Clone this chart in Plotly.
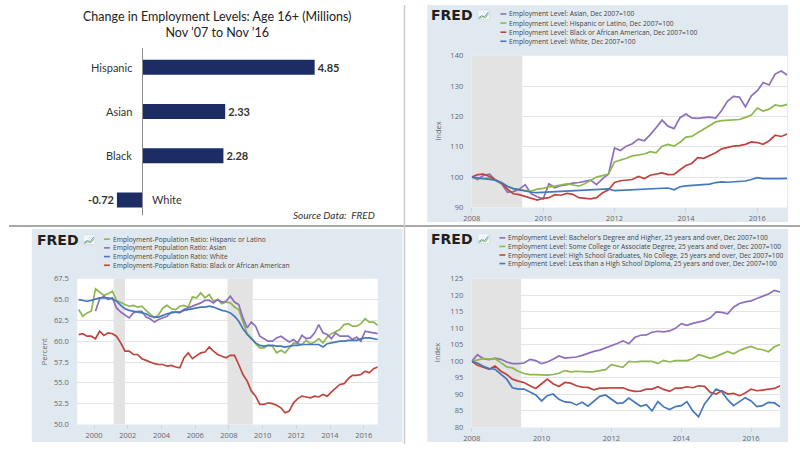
import plotly.graph_objects as go
import pandas as pd

W, H = 800, 449


def px(x):
    return x / W


def py(y):
    return 1 - y / H


# ---------------- DATA ----------------
# Panel 1: change in employment levels (millions)
bar_title = "Change in Employment Levels: Age 16+ (Millions)<br>Nov \u201907 to Nov \u201916"
bar_categories = ["Hispanic", "Asian", "Black", "White"]
bar_values = [4.85, 2.33, 2.28, -0.72]
bar_source = "Source Data:  FRED"

# Panel 2: employment level by race, Dec 2007 = 100 (every 2 months)
race_dates = pd.date_range("2008-01-01", "2016-11-01", freq="2MS")
race_names = [
    "Employment Level: Asian, Dec 2007=100",
    "Employment Level: Hispanic or Latino, Dec 2007=100",
    "Employment Level: Black or African American, Dec 2007=100",
    "Employment Level: White, Dec 2007=100",
]
race_asian = [100.0, 99.2, 100.6, 101.0, 99.0, 97.8,
              95.0, 95.2, 96.0, 97.5, 94.5, 93.5,
              92.8, 97.8, 96.5, 97.2, 97.5, 98.0,
              98.2, 98.6, 99.0, 97.5, 99.5, 101.0,
              109.6, 108.8, 110.2, 111.0, 112.5, 112.0,
              114.0, 116.3, 118.8, 116.8, 116.0, 119.6,
              120.8, 119.5, 119.4, 119.6, 119.8, 119.5,
              122.0, 125.0, 126.6, 126.4, 123.2, 126.8,
              128.5, 131.2, 130.4, 134.0, 135.0, 133.7]
race_hispanic = [100.0, 99.6, 99.5, 99.8, 98.8, 97.8,
                 96.8, 96.2, 95.8, 95.6, 95.4, 96.0,
                 96.3, 96.8, 97.0, 97.5, 97.8, 97.4,
                 97.0, 97.8, 98.8, 100.0, 100.5, 101.0,
                 105.0, 105.5, 106.2, 107.0, 107.4, 107.6,
                 108.4, 108.0, 110.2, 110.8, 110.2, 111.5,
                 113.2, 113.4, 114.6, 115.8, 116.8, 118.2,
                 118.6, 118.8, 118.9, 119.0, 119.7, 120.5,
                 122.8, 121.8, 122.4, 123.8, 123.4, 124.0]
race_black = [100.0, 100.8, 101.0, 100.2, 99.0, 98.0,
              96.0, 94.5, 94.2, 93.6, 92.8, 92.4,
              93.0, 93.2, 94.2, 94.0, 94.6, 94.3,
              93.2, 92.9, 92.8, 93.2, 94.8, 95.8,
              98.2, 98.8, 99.0, 99.2, 100.2, 99.5,
              100.6, 101.0, 101.4, 100.8, 100.9, 102.4,
              103.8, 104.5, 106.4, 106.2, 107.0, 108.0,
              109.3, 109.8, 110.2, 110.4, 110.8, 111.6,
              111.4, 110.8, 112.0, 113.8, 113.4, 114.2]
race_white = [100.0, 99.8, 99.6, 99.4, 99.0, 98.2,
              97.0, 96.2, 95.8, 95.4, 95.0, 94.9,
              95.0, 95.1, 95.2, 95.3, 95.4, 95.5,
              95.5, 95.6, 95.7, 95.8, 96.0, 96.1,
              95.5, 95.6, 95.6, 95.8, 95.9, 96.0,
              96.1, 96.2, 96.3, 96.4, 95.8, 96.8,
              97.1, 97.2, 97.3, 97.5, 97.7, 98.2,
              98.4, 98.3, 98.4, 98.5, 98.7, 99.2,
              99.8, 99.5, 99.4, 99.5, 99.5, 99.6]

# Panel 3: employment-population ratio (percent), quarterly samples
epr_dates = pd.date_range("1999-02-01", "2016-11-01", freq="3MS")
epr_names = [
    "Employment-Population Ratio: Hispanic or Latino",
    "Employment Population Ratio: Asian",
    "Employment-Population Ratio: White",
    "Employment-Population Ratio: Black or African American",
]
epr_hispanic = [63.8, 63.0, 63.4, 63.6,
                66.3, 65.9, 65.5, 65.7,
                66.0, 64.9, 64.6, 64.4,
                64.2, 64.3, 64.1, 64.2,
                63.7, 63.2, 62.8, 63.2,
                64.0, 64.3, 63.9, 63.8,
                64.2, 64.3, 64.1, 65.3,
                65.2, 65.8, 65.2, 65.6,
                64.8, 65.0, 64.5, 64.7,
                64.6, 64.1, 63.8, 62.3,
                60.9, 60.4, 59.7, 59.2,
                59.2, 59.5, 59.4, 58.6,
                58.9, 58.6, 59.2, 59.8,
                59.7, 59.6, 60.1, 59.7,
                59.9, 60.3, 59.8, 60.5,
                60.9, 61.1, 61.4, 62.0,
                62.1, 61.8, 61.8, 62.1,
                62.7, 62.3, 62.3, 61.9]
epr_asian = [None, None, None, None,
             63.6, 65.1, 65.4, 65.0,
             65.2, 64.0, 63.5, 63.2,
             62.8, 63.4, 63.6, 63.6,
             62.9, 62.7, 62.3, 62.6,
             62.8, 63.0, 63.5, 63.5,
             63.4, 63.8, 64.0, 64.2,
             64.4, 64.6, 64.9, 64.9,
             64.6, 65.0, 64.7, 64.8,
             65.4, 64.7, 64.4, 62.8,
             61.6, 62.3, 61.8, 60.6,
             60.3, 60.0, 60.0, 60.4,
             60.6, 60.3, 59.9, 60.2,
             59.8, 60.7, 60.3, 60.4,
             61.0, 62.0, 61.0, 60.8,
             60.3, 61.0, 60.6, 60.6,
             60.6, 60.2, 60.5, 60.0,
             61.2, 61.1, 61.0, 60.9]
epr_white = [65.0, 64.9, 64.8, 64.9,
             65.1, 65.2, 65.2, 65.2,
             65.1, 64.8, 64.3, 63.9,
             63.7, 63.6, 63.5, 63.4,
             63.3, 63.0, 62.9, 62.9,
             63.1, 63.3, 63.4, 63.5,
             63.5, 63.7, 63.8, 63.9,
             64.0, 64.1, 64.1, 64.2,
             64.1, 63.9, 63.7, 63.6,
             63.4, 63.0, 62.4, 61.5,
             60.8, 60.3, 59.8, 59.5,
             59.4, 59.5, 59.5, 59.4,
             59.4, 59.3, 59.4, 59.5,
             59.5, 59.6, 59.6, 59.6,
             59.6, 59.6, 59.3, 59.7,
             59.8, 59.9, 60.0, 60.0,
             60.1, 60.1, 60.1, 60.3,
             60.4, 60.4, 60.3, 60.2]
epr_black = [60.8, 60.9, 60.6, 60.6,
             60.3, 61.2, 60.7, 61.0,
             60.9, 60.6, 59.8, 58.8,
             58.8, 58.4, 58.4, 57.9,
             57.7, 57.5, 57.3, 57.2,
             57.2, 57.0, 57.1, 56.9,
             56.8, 58.0, 58.6, 57.9,
             58.3, 58.6, 58.7, 59.3,
             58.8, 58.4, 58.2, 58.0,
             58.3, 58.3, 57.2, 56.0,
             55.2, 54.0, 53.4, 52.4,
             52.4, 52.6, 52.5, 52.3,
             52.0, 51.4, 51.6, 52.6,
             53.1, 53.4, 53.3, 53.2,
             53.4, 53.3, 53.6, 53.4,
             53.9, 54.4, 54.8, 54.9,
             55.5, 55.9, 55.9, 56.0,
             56.4, 56.2, 56.7, 56.9]

# Panel 4: employment level by education, Dec 2007 = 100 (every 2 months)
edu_dates = pd.date_range("2008-01-01", "2016-11-01", freq="2MS")
edu_names = [
    "Employment Level: Bachelor's Degree and Higher, 25 years and over, Dec 2007=100",
    "Employment Level: Some College or Associate Degree, 25 years and over, Dec 2007=100",
    "Employment Level: High School Graduates, No College, 25 years and over, Dec 2007=100",
    "Employment Level: Less than a High School Diploma, 25 years and over, Dec 2007=100",
]
edu_bachelor = [100.0, 102.0, 100.8, 100.5, 101.0, 100.6,
                99.8, 99.3, 99.3, 99.5, 100.6, 100.2,
                99.3, 99.8, 100.6, 101.6, 101.0, 101.2,
                101.3, 101.8, 102.5, 103.0, 103.4, 104.0,
                104.8, 105.4, 106.2, 105.3, 107.2, 107.9,
                108.0, 108.8, 109.1, 108.9, 109.2, 110.0,
                111.4, 110.9, 111.5, 112.0, 112.3, 113.2,
                115.0, 114.8, 114.4, 116.4, 117.5, 118.0,
                118.3, 119.0, 119.6, 120.4, 121.5, 121.0]
edu_somecollege = [100.0, 100.3, 100.8, 100.7, 100.8, 99.6,
                   98.3, 98.0, 97.0, 96.3, 96.0, 96.0,
                   95.8, 95.8, 96.0, 96.4, 97.2, 96.8,
                   97.0, 96.8, 96.8, 96.9, 97.1, 97.5,
                   99.0, 98.6, 98.2, 100.0, 99.8, 100.0,
                   100.0, 100.0, 99.3, 100.3, 99.8, 100.2,
                   100.2, 100.2, 100.8, 102.0, 101.5, 100.9,
                   101.5, 102.2, 103.0, 102.3, 103.3, 104.0,
                   104.5, 103.8, 103.5, 102.9, 104.4, 105.1]
edu_highschool = [100.0, 98.8, 98.2, 97.6, 98.6, 97.0,
                  96.0, 94.6, 94.0, 93.6, 92.6, 91.8,
                  93.2, 94.6, 93.2, 92.4, 93.6, 93.4,
                  92.6, 92.2, 92.1, 91.4, 91.9, 91.9,
                  91.9, 92.0, 92.0, 91.3, 90.9, 91.0,
                  91.6, 91.6, 92.3, 91.5, 90.9, 91.9,
                  91.9, 92.3, 92.0, 92.6, 92.4, 90.6,
                  90.1, 91.1, 90.1, 90.3, 89.6, 90.4,
                  91.6, 91.1, 91.4, 91.5, 91.8, 92.6]
edu_lesshs = [100.0, 99.5, 98.5, 97.8, 97.6, 96.0,
              94.6, 92.0, 91.6, 91.6, 90.6, 89.8,
              88.0, 89.6, 90.1, 88.5, 87.7, 87.6,
              86.8, 87.6, 86.4, 88.0, 89.4, 89.8,
              88.4, 87.3, 87.4, 88.9, 87.6, 86.4,
              86.9, 85.0, 87.8, 86.2, 85.4, 86.3,
              86.6, 87.8, 85.0, 83.2, 87.1, 89.4,
              91.6, 90.8, 88.4, 86.6, 87.8, 89.0,
              88.0, 86.3, 86.6, 87.6, 87.4, 86.2]

recessions_2008 = [("2008-01-01", "2009-06-01")]
recessions_1999 = [("2001-03-01", "2001-11-01"), ("2007-12-01", "2009-06-01")]

# ---------------- STYLE ----------------
PURPLE = "#8d6fbb"
GREEN = "#8db74f"
RED = "#c1433e"
BLUE = "#4478bd"
FRED_BG = "#e1e9f0"
REC = "#e3e3e3"
GRID = "#e4e4e4"
TICKC = "#666666"
FONT = "Open Sans"

fig = go.Figure()
shapes = []
annotations = []

# ---------------- PANEL 1: bars ----------------
fig.add_trace(go.Bar(
    x=bar_values, y=bar_categories, orientation="h",
    marker=dict(color="#1c2c65", line=dict(width=0)), width=0.34,
    texttemplate="<b>%{x:.2f}</b>", textposition="outside",
    textfont=dict(family="Lato", size=11, color="#333333"),
    cliponaxis=False, xaxis="x", yaxis="y", showlegend=False,
))
for cat, v in zip(bar_categories, bar_values):
    annotations.append(dict(
        x=0, y=cat, xref="x", yref="y", text=cat, showarrow=False,
        xanchor="right" if v >= 0 else "left", xshift=-8 if v >= 0 else 8,
        font=dict(family="Lato", size=11, color="#333333"),
    ))
shapes.append(dict(type="line", xref="x", yref="paper", x0=0, x1=0,
                   y0=py(215), y1=py(44), line=dict(color="#8a8a8a", width=1)))
annotations.append(dict(x=px(210), y=py(20), xref="paper", yref="paper",
                        text=bar_title, showarrow=False, xanchor="center",
                        yanchor="middle", align="center",
                        font=dict(family="Lato", size=12.5, color="#222222")))
annotations.append(dict(x=px(372), y=py(215), xref="paper", yref="paper",
                        text="<i>" + bar_source + "</i>", showarrow=False,
                        xanchor="right", yanchor="middle",
                        font=dict(family="Lato", size=10, color="#333333")))

layout_axes = dict(
    xaxis=dict(domain=[px(100), px(340)], range=[-0.975, 5.71], visible=False),
    yaxis=dict(domain=[py(222), py(41)], categoryorder="array",
               categoryarray=bar_categories, autorange="reversed", visible=False),
)

# ---------------- FRED panels ----------------
panels = [
    dict(ax=2, bg=(423, 0, 788, 222), plot=(468, 52, 787, 207),
         xr=["2008-01-01", "2016-11-01"], yr=[90, 140], dt=10, fmt="d",
         tick0="2008-01-01", dates=race_dates,
         series=[race_asian, race_hispanic, race_black, race_white],
         names=race_names, colors=[PURPLE, GREEN, RED, BLUE],
         rec=recessions_2008, ytitle="Index", ytx=433,
         logo=(425, 10), leg=(497, 9.2, 9.3)),
    dict(ax=3, bg=(23, 229, 398, 447), plot=(69, 280, 373, 429),
         xr=["1999-01-01", "2016-11-01"], yr=[50, 67.5], dt=2.5, fmt=".1f",
         tick0="2000-01-01", dates=epr_dates,
         series=[epr_hispanic, epr_asian, epr_white, epr_black],
         names=epr_names, colors=[GREEN, PURPLE, BLUE, RED],
         rec=recessions_1999, ytitle="Percent", ytx=35,
         logo=(26, 240), leg=(96, 239.5, 8.9)),
    dict(ax=4, bg=(423, 229, 788, 447), plot=(468, 280, 780, 432),
         xr=["2008-01-01", "2016-11-01"], yr=[80, 125], dt=5, fmt="d",
         tick0="2008-01-01", dates=edu_dates,
         series=[edu_bachelor, edu_somecollege, edu_highschool, edu_lesshs],
         names=edu_names, colors=[PURPLE, GREEN, RED, BLUE],
         rec=recessions_2008, ytitle="Index", ytx=433,
         logo=(425, 239), leg=(496, 238.2, 8.75)),
]

for p in panels:
    n = p["ax"]
    xa, ya = f"x{n}", f"y{n}"
    bx0, by0, bx1, by1 = p["bg"]
    shapes.append(dict(type="rect", xref="paper", yref="paper", layer="below",
                       x0=px(bx0), x1=px(bx1), y0=py(by1), y1=py(by0),
                       fillcolor=FRED_BG, line=dict(width=0)))
    shapes.append(dict(type="rect", xref=f"{xa} domain", yref=f"{ya} domain",
                       layer="below", x0=0, x1=1, y0=0, y1=1,
                       fillcolor="white", line=dict(width=0)))
    for r0, r1 in p["rec"]:
        shapes.append(dict(type="rect", xref=xa, yref=f"{ya} domain", layer="below",
                           x0=max(r0, p["xr"][0]), x1=r1, y0=0, y1=1,
                           fillcolor=REC, line=dict(width=0)))
    for vals, name, col in zip(p["series"], p["names"], p["colors"]):
        fig.add_trace(go.Scatter(x=p["dates"], y=vals, mode="lines", name=name,
                                 line=dict(color=col, width=1.7), xaxis=xa, yaxis=ya,
                                 showlegend=False, connectgaps=False))
    x0, y0, x1, y1 = p["plot"]
    layout_axes[f"xaxis{n}"] = dict(
        domain=[px(x0), px(x1)], range=p["xr"], type="date", anchor=ya,
        tick0=p["tick0"], dtick="M24", tickformat="%Y", showgrid=False,
        zeroline=False, showline=False, ticks="outside", ticklen=4,
        tickcolor="#c9d3de", tickfont=dict(family=FONT, size=7.5, color=TICKC),
    )
    layout_axes[f"yaxis{n}"] = dict(
        domain=[py(y1), py(y0)], range=p["yr"], anchor=xa, dtick=p["dt"],
        tick0=p["yr"][0], tickformat=p["fmt"], showgrid=True, gridcolor=GRID,
        gridwidth=1, zeroline=False, showline=False, ticks="outside", ticklen=6,
        tickcolor="rgba(0,0,0,0)", tickfont=dict(family=FONT, size=7.5, color=TICKC),
    )
    annotations.append(dict(x=px(p["ytx"]), y=(py(y0) + py(y1)) / 2, xref="paper",
                            yref="paper", text=p["ytitle"], textangle=-90,
                            xanchor="center", yanchor="middle",
                            showarrow=False, font=dict(family=FONT, size=7.5, color=TICKC)))
    # FRED logo
    lx, ly = p["logo"]
    annotations.append(dict(x=px(lx), y=py(ly), xref="paper", yref="paper",
                            text="<b>FRED</b>", showarrow=False, xanchor="left",
                            yanchor="middle",
                            font=dict(family="DejaVu Sans", size=14, color="#231f20")))
    ix = lx + 49
    shapes.append(dict(type="rect", xref="paper", yref="paper",
                       x0=px(ix), x1=px(ix + 12), y0=py(ly + 5), y1=py(ly - 5),
                       fillcolor="#f4f7fa", line=dict(color="#c5d3e0", width=0.5)))
    shapes.append(dict(type="path", xref="paper", yref="paper",
                       path=f"M {px(ix+1)} {py(ly+3)} L {px(ix+4)} {py(ly+1)} "
                            f"L {px(ix+7)} {py(ly+2)} L {px(ix+11)} {py(ly-3)}",
                       line=dict(color="#5b9bd5", width=1)))
    shapes.append(dict(type="path", xref="paper", yref="paper",
                       path=f"M {px(ix+1)} {py(ly+4)} L {px(ix+5)} {py(ly+2)} "
                            f"L {px(ix+8)} {py(ly+3)} L {px(ix+11)} {py(ly-1)}",
                       line=dict(color="#8db74f", width=1)))
    # legend
    gx, gy, gstep = p["leg"]
    for i, (name, col) in enumerate(zip(p["names"], p["colors"])):
        yy = gy + i * gstep
        shapes.append(dict(type="line", xref="paper", yref="paper",
                           x0=px(gx), x1=px(gx + 6), y0=py(yy), y1=py(yy),
                           line=dict(color=col, width=1.6)))
        annotations.append(dict(x=px(gx + 7), y=py(yy), xref="paper", yref="paper",
                                text=name, showarrow=False, xanchor="left",
                                yanchor="middle",
                                font=dict(family=FONT, size=6.7, color="#444444")))

# dividers
shapes.append(dict(type="line", xref="paper", yref="paper", x0=0, x1=1,
                   y0=py(226), y1=py(226), line=dict(color="#a8a8a8", width=2)))
shapes.append(dict(type="line", xref="paper", yref="paper", x0=px(400), x1=px(400),
                   y0=0, y1=1, line=dict(color="#cccccc", width=1.5)))

fig.update_layout(
    width=W, height=H, autosize=False,
    margin=dict(l=0, r=0, t=0, b=0),
    paper_bgcolor="white", plot_bgcolor="white",
    showlegend=False, shapes=shapes, annotations=annotations,
    **layout_axes,
)

fig.write_html("out.html")
